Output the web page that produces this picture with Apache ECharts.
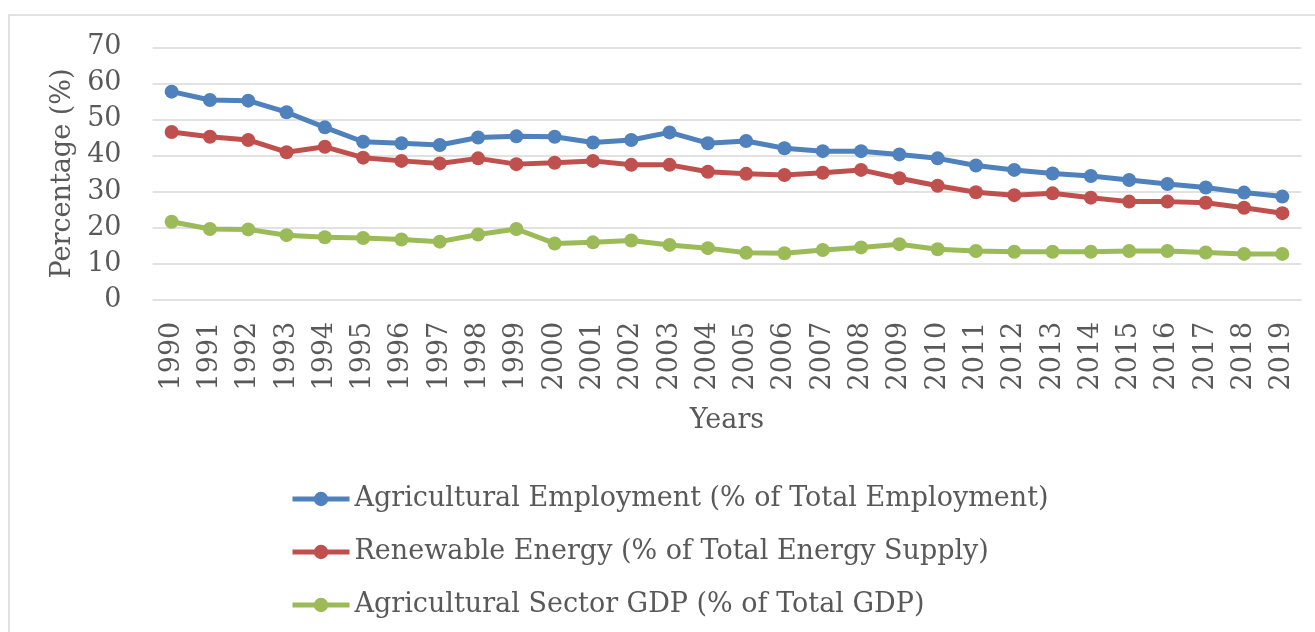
<!DOCTYPE html>
<html>
<head>
<meta charset="utf-8">
<script src="https://cdn.jsdelivr.net/npm/echarts@6/dist/echarts.min.js"></script>
<style>
html,body{margin:0;padding:0;background:#fff;}
#chart{width:1315px;height:632px;}
</style>
</head>
<body>
<div id="chart"></div>
<script>
const years = ['1990','1991','1992','1993','1994','1995','1996','1997','1998','1999','2000','2001','2002','2003','2004','2005','2006','2007','2008','2009','2010','2011','2012','2013','2014','2015','2016','2017','2018','2019'];
const agriEmployment = [57.7,55.4,55.2,52.0,47.8,43.8,43.4,42.9,45.0,45.3,45.2,43.6,44.3,46.4,43.4,44.0,42.0,41.2,41.2,40.3,39.2,37.2,36.0,35.0,34.3,33.2,32.1,31.1,29.7,28.6];
const renewableEnergy = [46.5,45.2,44.3,40.9,42.4,39.4,38.5,37.8,39.2,37.6,38.0,38.5,37.4,37.4,35.5,34.9,34.6,35.2,36.0,33.7,31.6,29.8,29.0,29.5,28.3,27.2,27.2,26.9,25.5,24.0];
const agriGDP = [21.6,19.6,19.5,17.9,17.3,17.1,16.7,16.1,18.1,19.6,15.6,15.9,16.4,15.2,14.3,13.0,12.9,13.8,14.5,15.4,14.0,13.5,13.3,13.3,13.3,13.5,13.5,13.1,12.7,12.7];
const seriesNames = ['Agricultural Employment (% of Total Employment)','Renewable Energy (% of Total Energy Supply)','Agricultural Sector GDP (% of Total GDP)'];
const yTicks = [0,10,20,30,40,50,60,70];

const FONT = 'DejaVu Serif';
const TXT = '#595959';
const colors = ['#4F81BD','#C0504D','#9BBB59'];
const chart = echarts.init(document.getElementById('chart'), null, {renderer:'canvas'});
function mk(name, data, c){
  return {name, type:'line', data, symbol:'circle', symbolSize:14, color:c,
    lineStyle:{width:5,color:c}, itemStyle:{color:c}, emphasis:{disabled:true}, animation:false};
}
chart.setOption({
  animation:false,
  backgroundColor:'#fff',
  graphic:[{type:'rect', shape:{x:9,y:15,width:1400,height:700}, style:{fill:'none', stroke:'#d9d9d9', lineWidth:1.5}, silent:true}],
  grid:{left:152.5, right:13.5, top:47.3, bottom:332.3, containLabel:false},
  legend:{
    orient:'vertical', left:290, top:484, padding:0,
    itemWidth:57, itemHeight:18, itemGap:23,
    lineStyle:{width:5},
    textStyle:{fontFamily:FONT, fontSize:27, color:TXT, lineHeight:30},
    data:seriesNames
  },
  xAxis:{
    type:'category', data:years, boundaryGap:true,
    axisLine:{show:false}, axisTick:{show:false},
    axisLabel:{rotate:90, margin:22, fontFamily:FONT, fontSize:27, color:TXT, interval:0},
    name:'Years', nameLocation:'middle', nameGap:108,
    nameTextStyle:{fontFamily:FONT, fontSize:27, color:TXT}
  },
  yAxis:{
    type:'value', min:yTicks[0], max:yTicks[yTicks.length-1], interval:10,
    axisLine:{show:false}, axisTick:{show:false},
    splitLine:{lineStyle:{color:'#d9d9d9', width:1.5}},
    axisLabel:{margin:31, fontFamily:FONT, fontSize:27, color:TXT},
    name:'Percentage (%)', nameLocation:'middle', nameGap:74,
    nameTextStyle:{fontFamily:FONT, fontSize:27, color:TXT}
  },
  series:[mk(seriesNames[0], agriEmployment, colors[0]), mk(seriesNames[1], renewableEnergy, colors[1]), mk(seriesNames[2], agriGDP, colors[2])]
});
</script>
</body>
</html>
